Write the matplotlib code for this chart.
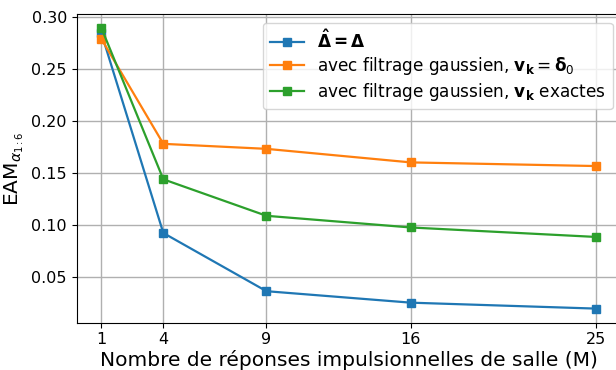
import matplotlib
matplotlib.use("Agg")
import matplotlib.pyplot as plt

# Number of room impulse responses
m_values = [1, 4, 9, 16, 25]

# Mean absolute error for each configuration
err_exact = [0.2838, 0.0924, 0.0366, 0.0256, 0.0199]
err_gauss_delta = [0.2784, 0.1779, 0.1731, 0.1601, 0.1566]
err_gauss_exact = [0.2889, 0.1439, 0.1089, 0.0977, 0.0886]

labels = [
    r'$\mathbf{\hat{\Delta} = \Delta}$',
    r'avec filtrage gaussien, $\mathbf{v_k} = \mathbf{\delta}_0$',
    r'avec filtrage gaussien, $\mathbf{v_k}$ exactes',
]

fig = plt.figure(figsize=(6.16, 3.70), dpi=100)
ax = fig.add_axes([0.1245, 0.128, 0.884, 0.834])

for series, lab in zip([err_exact, err_gauss_delta, err_gauss_exact], labels):
    ax.plot(m_values, series, marker='s', markersize=6, linewidth=1.6, label=lab)

ax.set_xticks(m_values)
ax.set_yticks([0.05, 0.10, 0.15, 0.20, 0.25, 0.30])
ax.tick_params(labelsize=11.5)
ax.grid(True, color='#b0b0b0', linewidth=1)
ax.set_xlabel('Nombre de réponses impulsionnelles de salle (M)', fontsize=14.5, labelpad=2)
ax.set_ylabel(r'EAM$_{\alpha_{1:6}}$', fontsize=14.5)
ax.legend(loc='upper right', fontsize=12.2, labelspacing=0.2)

fig.savefig('out.png', dpi=100)
